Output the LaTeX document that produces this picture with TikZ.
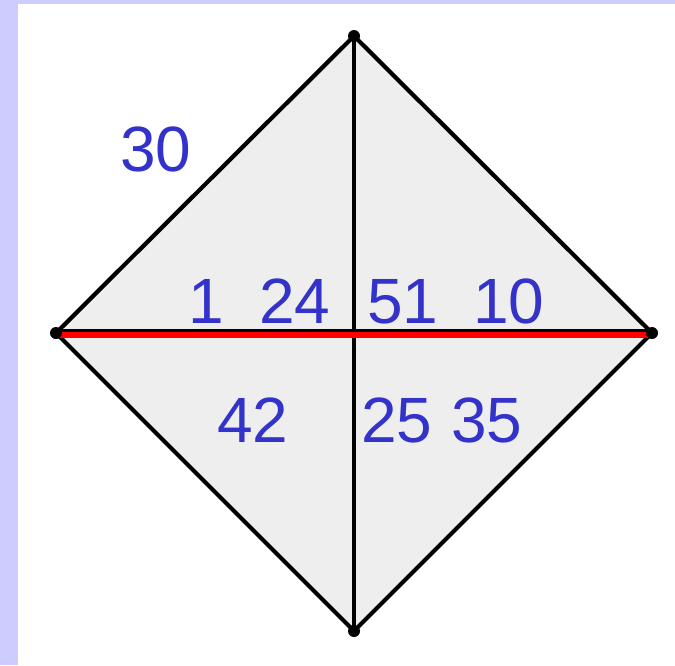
\documentclass[tikz,border=0pt]{standalone}
\usepackage{fontspec}
\setmainfont{Liberation Sans}
\begin{document}
\begin{tikzpicture}[x=1pt,y=-1pt,
  edge/.style={draw=black,line width=4.2pt,line cap=round,line join=round},
  redline/.style={draw=red,line width=6pt},
  vdot/.style={circle,fill=black,inner sep=0pt,minimum size=12pt},
  num/.style={text=numblue,inner sep=0pt,anchor=base west,font=\fontsize{64}{64}\selectfont}]
\definecolor{numblue}{HTML}{3333CC}
\definecolor{lav}{HTML}{CCCCFF}
\definecolor{fillg}{HTML}{EEEEEE}
\useasboundingbox (0,0) rectangle (675,665);
\fill[lav] (0,0) rectangle (675,665);
\fill[white] (18,4) rectangle (675,665);
\coordinate (T) at (354,36);
\coordinate (L) at (56,333);
\coordinate (R) at (652,333);
\coordinate (B) at (354,631);
\fill[fillg] (T) -- (R) -- (B) -- (L) -- cycle;
\draw[edge] (T) -- (R) -- (B) -- (L) -- cycle;
\draw[edge] (T) -- (B);
\draw[edge] ([yshift=1.5pt]L) -- ([yshift=1.5pt]R);
\draw[redline] ([yshift=-1.5pt]L) -- ([yshift=-1.5pt]R);
\foreach \v in {T,L,R,B} \node[vdot] (d\v) at (\v) {};
\node[num] (n30) at (120,171) {30};
\node[num] (n1) at (188,323) {1};
\node[num] (n24) at (259,323) {24};
\node[num] (n51) at (367,323) {51};
\node[num] (n10) at (473,323) {10};
\node[num] (n42) at (217,442) {42};
\node[num] (n25) at (361,442) {25};
\node[num] (n35) at (451,442) {35};
\end{tikzpicture}
\end{document}
